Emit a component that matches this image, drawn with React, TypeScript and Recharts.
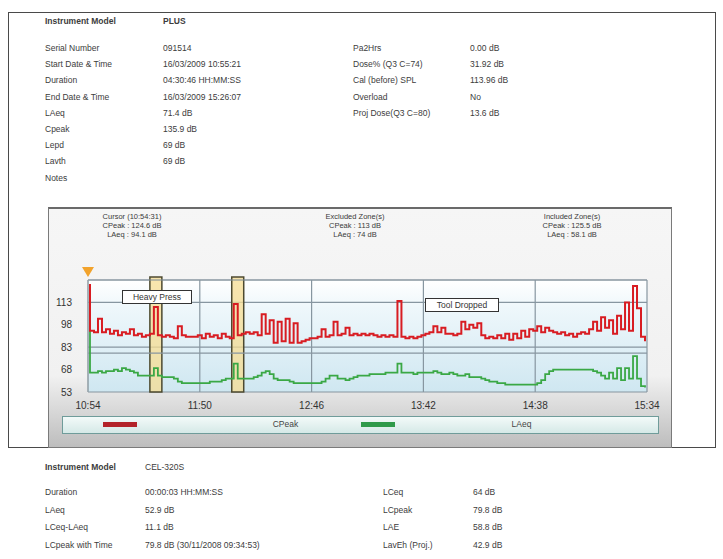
import React from "react";
import {
  LineChart,
  Line,
  XAxis,
  YAxis,
  CartesianGrid,
  ReferenceArea,
  ReferenceLine,
} from "recharts";

// sample times, minutes after midnight
const MINUTES: number[] = [
  654.5,
  655, 657, 659, 661, 663, 665, 667, 669, 671, 673,
  675, 677, 679, 681, 683, 685, 687, 689, 691, 693,
  695, 697, 699, 701, 703, 705, 707, 709, 711, 713,
  715, 717, 719, 721, 723, 725, 727, 729, 731, 733,
  735, 737, 739, 741, 743, 745, 747, 749, 751, 753,
  755, 757, 759, 761, 763, 765, 767, 769, 771, 773,
  775, 777, 779, 781, 783, 785, 787, 789, 791, 793,
  795, 797, 799, 801, 803, 805, 807, 809, 811, 813,
  815, 817, 819, 821, 823, 825, 827, 829, 831, 833,
  835, 837, 839, 841, 843, 845, 847, 849, 851, 853,
  855, 857, 859, 861, 863, 865, 867, 869, 871, 873,
  875, 877, 879, 881, 883, 885, 887, 889, 891, 893,
  895, 897, 899, 901, 903, 905, 907, 909, 911, 913,
  915, 917, 919, 921, 923, 925, 927, 929, 931, 933,
];

const CPEAK: number[] = [
  124.6,
  94, 93, 102, 93, 95, 92, 94, 91, 93, 92,
  95, 91, 92, 90, 91, 92, 110, 91, 90, 91,
  90, 89, 97, 91, 90, 90, 90, 91, 89, 92,
  90, 91, 89, 92, 90, 89, 112, 91, 92, 93,
  92, 93, 91, 105, 92, 101, 86, 100, 87, 102,
  86, 99, 86, 87, 88, 89, 89, 90, 95, 90,
  91, 100, 91, 92, 96, 91, 92, 91, 92, 91,
  92, 91, 90, 91, 90, 91, 90, 114, 90, 89,
  90, 89, 90, 91, 92, 93, 97, 93, 96, 92,
  92, 91, 92, 100, 95, 98, 96, 99, 91, 89,
  90, 89, 91, 89, 92, 88, 92, 89, 94, 90,
  95, 94, 97, 93, 96, 94, 93, 92, 93, 91,
  92, 90, 92, 93, 92, 95, 100, 94, 103, 96,
  101, 92, 104, 95, 113, 94, 124, 109, 90, 87,
];

const LAEQ: number[] = [
  94.1,
  66, 66, 67, 66, 67, 67, 68, 67, 69, 68,
  67, 66, 64, 64, 64, 64, 69, 64, 63, 63,
  63, 62, 60, 59, 59, 59, 59, 59, 59, 59,
  60, 60, 60, 61, 62, 62, 72, 62, 62, 62,
  62, 63, 64, 66, 67, 65, 62, 61, 61, 61,
  60, 59, 59, 59, 59, 59, 59, 59, 60, 62,
  64, 64, 62, 62, 61, 62, 63, 64, 64, 64,
  65, 65, 65, 65, 66, 66, 66, 72, 66, 66,
  66, 65, 66, 66, 66, 66, 67, 66, 65, 65,
  66, 65, 64, 64, 65, 63, 63, 63, 62, 61,
  60, 60, 59, 59, 58, 58, 58, 58, 58, 58,
  58, 58, 59, 61, 65, 67, 68, 68, 68, 68,
  68, 68, 68, 68, 68, 68, 67, 66, 64, 62,
  66, 62, 69, 61, 69, 62, 77, 62, 57, 56,
];

const X_TICKS: number[] = [654, 710, 766, 822, 878, 934];
const Y_TICKS: number[] = [53, 68, 83, 98, 113];
const EXCLUDED_ZONES: [number, number][] = [
  [685, 691],
  [726, 732],
];

const HEADER_LEFT: [string, string][] = [
  ["Serial Number", "091514"],
  ["Start Date & Time", "16/03/2009 10:55:21"],
  ["Duration", "04:30:46 HH:MM:SS"],
  ["End Date & Time", "16/03/2009 15:26:07"],
  ["LAeq", "71.4 dB"],
  ["Cpeak", "135.9 dB"],
  ["Lepd", "69 dB"],
  ["Lavth", "69 dB"],
  ["Notes", ""],
];
const HEADER_RIGHT: [string, string][] = [
  ["Pa2Hrs", "0.00 dB"],
  ["Dose% (Q3 C=74)", "31.92 dB"],
  ["Cal (before) SPL", "113.96 dB"],
  ["Overload", "No"],
  ["Proj Dose(Q3 C=80)", "13.6 dB"],
];
const FOOTER_ROWS: [string, string, string, string][] = [
  ["Duration", "00:00:03 HH:MM:SS", "LCeq", "64 dB"],
  ["LAeq", "52.9 dB", "LCpeak", "79.8 dB"],
  ["LCeq-LAeq", "11.1 dB", "LAE", "58.8 dB"],
  ["LCpeak with Time", "79.8 dB (30/11/2008 09:34:53)", "LavEh (Proj.)", "42.9 dB"],
];
const READOUTS: string[][] = [
  ["Cursor (10:54:31)", "CPeak : 124.6 dB", "LAeq : 94.1 dB"],
  ["Excluded Zone(s)", "CPeak : 113 dB", "LAeq : 74 dB"],
  ["Included Zone(s)", "CPeak : 125.5 dB", "LAeq : 58.1 dB"],
];

const data = MINUTES.map((t, i) => ({ t, cpeak: CPEAK[i], laeq: LAEQ[i] }));

const hhmm = (m: number) => {
  const h = Math.floor(m / 60);
  const mm = Math.round(m - h * 60);
  return `${h}:${mm < 10 ? "0" : ""}${mm}`;
};

const font = '"Liberation Sans", Arial, sans-serif';

const Txt: React.FC<{ x: number; y: number; bold?: boolean; size?: number; children: React.ReactNode }> = ({
  x,
  y,
  bold,
  size = 8.5,
  children,
}) => (
  <div
    style={{
      position: "absolute",
      left: x,
      top: y - 6,
      fontSize: size,
      lineHeight: "12px",
      fontWeight: bold ? 700 : 400,
      color: "#3c3c3c",
      whiteSpace: "nowrap",
    }}
  >
    {children}
  </div>
);

const App: React.FC = () => {
  return (
    <div
      style={{
        position: "absolute",
        left: 0,
        top: 0,
        width: 723,
        height: 559,
        background: "#fff",
        fontFamily: font,
        overflow: "hidden",
      }}
    >
      {/* page border */}
      <div
        style={{
          position: "absolute",
          left: 8,
          top: 12,
          width: 706,
          height: 434,
          border: "1px solid #4a4a4a",
        }}
      />

      <Txt x={45} y={21} bold>Instrument Model</Txt>
      <Txt x={163} y={21} bold>PLUS</Txt>
      {HEADER_LEFT.map(([k, v], i) => (
        <React.Fragment key={k}>
          <Txt x={45} y={48 + i * 16.2}>{k}</Txt>
          <Txt x={163} y={48 + i * 16.2}>{v}</Txt>
        </React.Fragment>
      ))}
      {HEADER_RIGHT.map(([k, v], i) => (
        <React.Fragment key={k}>
          <Txt x={353} y={48 + i * 16.2}>{k}</Txt>
          <Txt x={470} y={48 + i * 16.2}>{v}</Txt>
        </React.Fragment>
      ))}

      {/* chart frame */}
      <div
        style={{
          position: "absolute",
          left: 48,
          top: 207,
          width: 622,
          height: 238,
          borderTop: "2px solid #6a6a6a",
          borderLeft: "1px solid #7a7a7a",
          borderRight: "1px solid #7a7a7a",
          borderBottom: "1px solid #7a7a7a",
          background:
            "linear-gradient(to bottom, #f6f6f6 0%, #f1f1f1 70%, #d9d9d9 84%, #bdbdbd 100%)",
        }}
      />
      {READOUTS.map((lines, i) => (
        <div
          key={i}
          style={{
            position: "absolute",
            left: [132, 355, 572][i] - 60,
            top: 212,
            width: 120,
            textAlign: "center",
            fontSize: 7.5,
            lineHeight: "9px",
            color: "#3a3a3a",
          }}
        >
          {lines.map((l) => (
            <div key={l}>{l}</div>
          ))}
        </div>
      ))}

      <div style={{ position: "absolute", left: 48, top: 207 }}>
        <LineChart
          width={624}
          height={240}
          data={data}
          margin={{ top: 73, right: 25, left: 0, bottom: 0 }}
        >
          <defs>
            <linearGradient id="plotBg" x1="0" y1="0" x2="0" y2="1">
              <stop offset="0%" stopColor="#ffffff" />
              <stop offset="25%" stopColor="#eef7fb" />
              <stop offset="100%" stopColor="#cfe7f1" />
            </linearGradient>
          </defs>
          <CartesianGrid fill="url(#plotBg)" stroke="#8796a0" strokeWidth={1.2} />
          <XAxis
            dataKey="t"
            type="number"
            domain={[654, 934]}
            ticks={X_TICKS}
            tickFormatter={hhmm}
            axisLine={false}
            tickLine={false}
            tickMargin={4}
            height={55}
            tick={{ fontSize: 10, fill: "#333", fontFamily: font }}
          />
          <YAxis
            type="number"
            domain={[53, 128]}
            ticks={Y_TICKS}
            axisLine={{ stroke: "#9aa7ad" }}
            tickLine={false}
            tickMargin={10}
            width={40}
            tick={{ fontSize: 10, fill: "#333", fontFamily: font }}
          />
          <ReferenceLine y={128} stroke="#8796a0" strokeWidth={1.2} />
          <ReferenceLine y={79} stroke="#8796a0" strokeWidth={1.2} />
          <Line
            dataKey="laeq"
            type="stepAfter"
            stroke="#3aa845"
            strokeWidth={1.8}
            dot={false}
            isAnimationActive={false}
          />
          <Line
            dataKey="cpeak"
            type="stepAfter"
            stroke="#d81c22"
            strokeWidth={2}
            dot={false}
            isAnimationActive={false}
          />
          {EXCLUDED_ZONES.map(([a, b]) => (
            <ReferenceArea
              key={a}
              x1={a}
              x2={b}
              y1={53}
              y2={130}
              ifOverflow="visible"
              fill="#f6dc92"
              fillOpacity={0.75}
              stroke="#4d4a30"
              strokeWidth={1.5}
            />
          ))}
        </LineChart>
      </div>

      {/* cursor marker */}
      <div
        style={{
          position: "absolute",
          left: 82,
          top: 267,
          width: 0,
          height: 0,
          borderLeft: "6px solid transparent",
          borderRight: "6px solid transparent",
          borderTop: "10px solid #f2a32c",
        }}
      />

      {/* event notes */}
      <div
        style={{
          position: "absolute",
          left: 122,
          top: 290,
          width: 68,
          height: 12,
          border: "1px solid #333",
          background: "#fff",
          fontSize: 8.5,
          lineHeight: "12px",
          textAlign: "center",
          color: "#333",
        }}
      >
        Heavy Press
      </div>
      <div
        style={{
          position: "absolute",
          left: 425,
          top: 298,
          width: 72,
          height: 12,
          border: "1px solid #333",
          background: "#fff",
          fontSize: 8.5,
          lineHeight: "12px",
          textAlign: "center",
          color: "#333",
        }}
      >
        Tool Dropped
      </div>

      {/* legend */}
      <div
        style={{
          position: "absolute",
          left: 62,
          top: 416,
          width: 595,
          height: 16,
          border: "1px solid #6f9c9a",
          background: "linear-gradient(to bottom, #f3faf9, #d5e9e7)",
        }}
      >
        <div style={{ position: "absolute", left: 40, top: 5, width: 34, height: 5, background: "#b3232a" }} />
        <div style={{ position: "absolute", left: 200, top: 2, width: 45, textAlign: "center", fontSize: 8.5, color: "#444" }}>
          CPeak
        </div>
        <div style={{ position: "absolute", left: 298, top: 5, width: 34, height: 5, background: "#2f9a4a" }} />
        <div style={{ position: "absolute", left: 436, top: 2, width: 45, textAlign: "center", fontSize: 8.5, color: "#444" }}>
          LAeq
        </div>
      </div>

      <Txt x={45} y={467} bold>Instrument Model</Txt>
      <Txt x={145} y={467}>CEL-320S</Txt>
      {FOOTER_ROWS.map(([a, b, c, d], i) => (
        <React.Fragment key={a}>
          <Txt x={45} y={492 + i * 17.7}>{a}</Txt>
          <Txt x={145} y={492 + i * 17.7}>{b}</Txt>
          <Txt x={383} y={492 + i * 17.7}>{c}</Txt>
          <Txt x={473} y={492 + i * 17.7}>{d}</Txt>
        </React.Fragment>
      ))}
    </div>
  );
};

export default App;
